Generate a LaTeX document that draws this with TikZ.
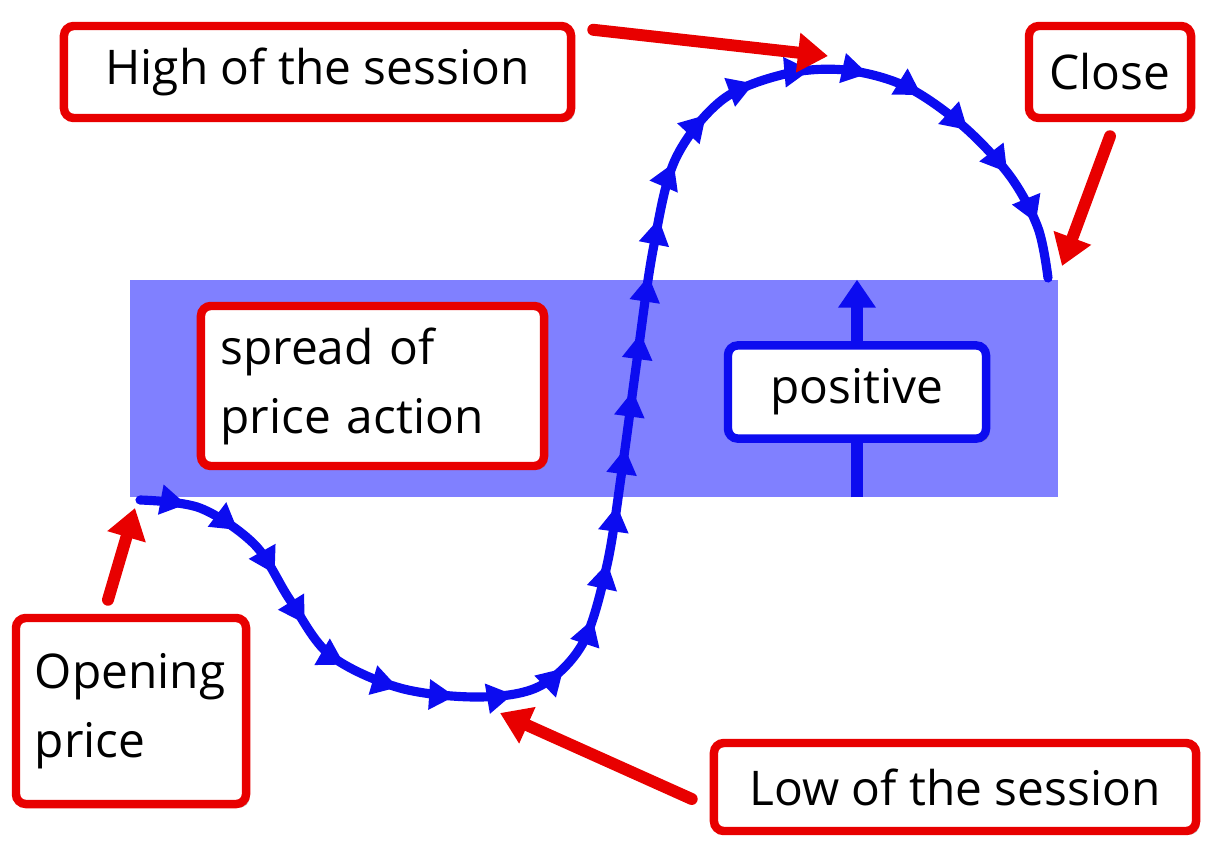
\documentclass[tikz,border=0pt]{standalone}
\usepackage{fontspec}
\setmainfont{Open Sans}
\usetikzlibrary{arrows.meta,decorations.markings,shadows}
\definecolor{tagred}{RGB}{232,0,0}
\definecolor{pathblue}{RGB}{12,12,240}
\definecolor{bandblue}{RGB}{128,128,255}

\tikzset{
  tag/.style={draw=tagred, line width=6pt, rounded corners=7pt, fill=white,
    drop shadow={shadow xshift=2.5pt,shadow yshift=-2.5pt,opacity=0.45},
    inner sep=0pt, font=\fontsize{34}{49}\selectfont},
  pointer/.style={draw=tagred, line width=8.5pt, line cap=round,
    -{Triangle[length=0.75cm,width=0.95cm]}},
  pricepath/.style={draw=pathblue, line width=6.5pt, line cap=round,
    postaction={decorate},
    decoration={markings,
      mark=between positions 0.03 and 0.97 step 1.45cm with
        {\arrow{Triangle[length=0.65cm,width=0.72cm]}}}}
}

\begin{document}
\begin{tikzpicture}[x=0.025cm, y=-0.025cm]
  \useasboundingbox (0,0) rectangle (1212,842);

  % price band
  \node[fill=bandblue, minimum width=23.2cm, minimum height=5.425cm, inner sep=0pt]
    (band) at (594,388.5) {};
  \coordinate (axis) at (857,0);
  \draw[pathblue, line width=8.5pt, -{Triangle[length=0.7cm,width=0.9cm]}]
    (band.south -| axis) -- (band.north -| axis);
  \node[tag, draw=pathblue, minimum width=6.45cm, minimum height=2.33cm]
    (pos) at (857,392) {positive};

  % labels
  \node[tag, minimum width=12.675cm, minimum height=2.3cm] (hi) at (317.5,72) {High of the session};
  \node[tag, minimum width=4.05cm, minimum height=2.3cm] (cl) at (1110,72) {Close};
  \node[tag, minimum width=8.575cm, minimum height=4.0cm, text width=7.6cm, align=left]
    (spread) at (372.5,386) {spread of\\price action};
  \node[tag, minimum width=5.75cm, minimum height=4.65cm, text width=4.8cm, align=left]
    (op) at (131,711) {Opening\\price};
  \node[tag, minimum width=12.05cm, minimum height=2.2cm] (lo) at (955,787) {Low of the session};

  % the session
  \draw[pricepath] plot[smooth, tension=0.55] coordinates {
    (140,500) (200,508) (255,545) (290,600) (330,655) (400,688) (480,697)
    (540,686) (583,643) (607,565) (622,470) (637,360) (653,250) (675,160)
    (722,100) (785,74) (845,70) (905,86) (962,125) (1010,176) (1038,228) (1048,278)};

  \coordinate (openmark) at (135,508);
  \coordinate (lowmark) at (500,713);
  \coordinate (highmark) at (828,56);
  \coordinate (closemark) at (1062,266);

  \draw[pointer] ([xshift=-0.575cm,yshift=0.35cm]op.north) -- (openmark);
  \draw[pointer] ([xshift=-0.45cm,yshift=-0.3cm]lo.west) -- (lowmark);
  \draw[pointer] ([xshift=0.45cm,yshift=-0.2cm]hi.north east) -- (highmark);
  \draw[pointer] ([yshift=-0.35cm]cl.south) -- (closemark);
\end{tikzpicture}
\end{document}
